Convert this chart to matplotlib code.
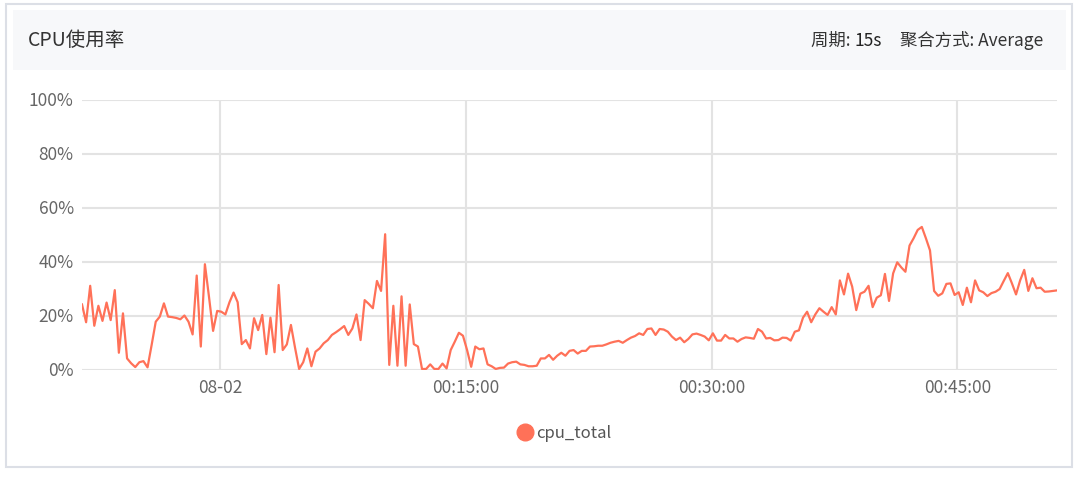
import matplotlib
matplotlib.use("Agg")
import matplotlib.pyplot as plt
from matplotlib.patches import Rectangle
from matplotlib.lines import Line2D
import numpy as np

plt.rcParams['font.family'] = ['Noto Sans CJK SC', 'DejaVu Sans']

# ---- data ----
title = "CPU使用率"
period_label = "周期: "
period_value = "15s"
agg_label = "聚合方式: Average"
series_name = "cpu_total"
period_seconds = 15
start_offset_seconds = -505  # first sample relative to 08-02 00:00:00

cpu_total = [
    24.1, 17.5, 31.0, 16.2, 23.6, 18.0, 24.8, 18.3, 29.4, 6.2,
    20.8, 4.1, 2.3, 0.9, 2.7, 3.1, 0.8, 9.1, 17.7, 19.6,
    24.5, 19.6, 19.4, 19.1, 18.6, 20.0, 17.7, 13.0, 34.8, 8.5,
    39.0, 26.9, 14.3, 21.7, 21.4, 20.4, 24.9, 28.5, 24.9, 9.4,
    10.9, 7.8, 19.0, 14.6, 20.2, 5.7, 19.2, 6.4, 31.3, 7.2,
    9.3, 16.5, 8.1, 0.2, 2.7, 7.8, 1.2, 6.6, 7.8, 9.7,
    10.9, 12.8, 13.8, 14.9, 16.1, 12.8, 15.2, 20.4, 10.9, 25.7,
    24.3, 22.7, 32.8, 29.1, 50.1, 1.7, 23.6, 1.4, 27.1, 1.4,
    24.1,
    9.4, 8.5, 0.2, 0.2, 1.9, 0.2, 0.2, 2.2, 0.4, 7.2,
    10.3, 13.6, 12.5, 7.2, 1.0, 8.5, 7.5, 7.8, 1.9, 1.2,
    0.2, 0.6, 0.7, 2.2, 2.7, 2.9, 1.9, 1.7, 1.2, 1.2,
    1.4, 4.1, 4.1, 5.4, 3.6, 5.1, 6.2, 5.1, 6.9, 7.2,
    5.9, 6.9, 6.9, 8.5, 8.6, 8.8, 8.8, 9.3, 9.9, 10.3,
    10.6, 9.9, 10.9, 11.8, 12.4, 13.4, 12.8, 15.0, 15.2, 12.8,
    15.0, 14.8, 14.0, 12.2, 10.9, 11.8, 10.1, 11.3, 13.0, 13.3,
    12.8, 12.2, 10.8, 13.4, 10.7, 10.7, 12.8, 11.5, 11.5,
    10.3, 11.3, 11.9, 11.7, 11.4, 15.0, 14.0, 11.5, 11.7, 10.8,
    10.9, 11.8, 11.7, 10.7, 14.0, 14.5, 19.2, 21.4, 17.5, 20.4,
    22.7, 21.4, 20.2, 23.1, 20.4, 33.0, 27.8, 35.5, 30.7, 22.0,
    28.1, 28.8, 31.0, 23.1, 26.6, 27.5, 35.4, 25.4, 35.6, 39.7,
    37.8, 36.2, 45.9, 48.6, 51.7, 52.8, 48.6, 44.1, 29.1, 27.3,
    28.2, 31.7, 31.9, 27.6, 28.6, 23.9, 30.3, 24.9, 33.0, 29.3,
    28.6, 27.2, 28.3, 28.8, 29.8, 32.8, 35.7, 31.9, 27.8, 33.0,
    36.9, 29.1, 33.8, 30.1, 30.3, 28.8, 28.9, 29.1, 29.3,
]

x_tick_minutes = [0, 15, 30, 45]
x_tick_labels = ["08-02", "00:15:00", "00:30:00", "00:45:00"]
y_ticks = [0, 20, 40, 60, 80, 100]
y_tick_labels = ["0%", "20%", "40%", "60%", "80%", "100%"]

line_color = "#ff7158"
grid_color = "#e3e3e3"
tick_color = "#666666"

# ---- figure ----
W, H = 1079, 478
fig = plt.figure(figsize=(W / 100, H / 100), dpi=100)
fig.patch.set_facecolor("white")

def fx(px):
    return px / W

def fy(py):
    return 1 - py / H

# outer border
fig.patches.append(Rectangle((fx(6), fy(467)), fx(1072) - fx(6), fy(4) - fy(467),
                             transform=fig.transFigure, facecolor="none",
                             edgecolor="#dcdfe6", linewidth=1.5, zorder=0))
# header background
fig.patches.append(Rectangle((fx(13), fy(70)), fx(1066) - fx(13), fy(10) - fy(70),
                             transform=fig.transFigure, facecolor="#f7f8fa",
                             edgecolor="none", zorder=0))

fig.text(fx(28), fy(41), title, fontsize=14, color="#333333", va="center", ha="left")

# right header text, composed right to left
t_agg = fig.text(fx(1043), fy(41), agg_label, fontsize=12.5, color="#333333", va="center", ha="right")
fig.canvas.draw()
r = fig.canvas.get_renderer()
bb = t_agg.get_window_extent(r)
x_right = bb.x0 - 18
t_val = fig.text(x_right / W, fy(41), period_value, fontsize=12.5, color="#222222",
                 va="center", ha="right", fontweight="medium")
bb = t_val.get_window_extent(r)
fig.text(bb.x0 / W, fy(41), period_label, fontsize=12.5, color="#333333", va="center", ha="right")

# axes
ax = fig.add_axes([fx(82), fy(369.5), fx(1057) - fx(82), fy(99.5) - fy(369.5)])
ax.set_zorder(2)
n = len(cpu_total)
t_min = (start_offset_seconds + np.arange(n) * period_seconds) / 60.0
ax.plot(t_min, cpu_total, color=line_color, linewidth=1.6, solid_joinstyle="round", zorder=3)

ax.set_xlim(t_min[0], t_min[-1])
ax.set_ylim(0, 100)
ax.set_yticks(y_ticks)
ax.set_yticklabels(y_tick_labels)
ax.set_xticks(x_tick_minutes)
ax.set_xticklabels(x_tick_labels)
for s in ax.spines.values():
    s.set_visible(False)
ax.tick_params(axis="both", length=0, colors=tick_color, labelsize=12.5)
ax.tick_params(axis="y", pad=6)
ax.tick_params(axis="x", pad=7)
ax.grid(True, color=grid_color, linewidth=1.5)
ax.set_axisbelow(True)
ax.patch.set_alpha(0)

# legend
handle = Line2D([], [], marker="o", linestyle="none", color=line_color, markersize=12)
fig.legend([handle], [series_name], loc="center", bbox_to_anchor=(fx(565), fy(433)),
           frameon=False, fontsize=12, handletextpad=0.3, labelcolor="#555555",
           handlelength=0.8)

fig.savefig("out.png", dpi=100)
